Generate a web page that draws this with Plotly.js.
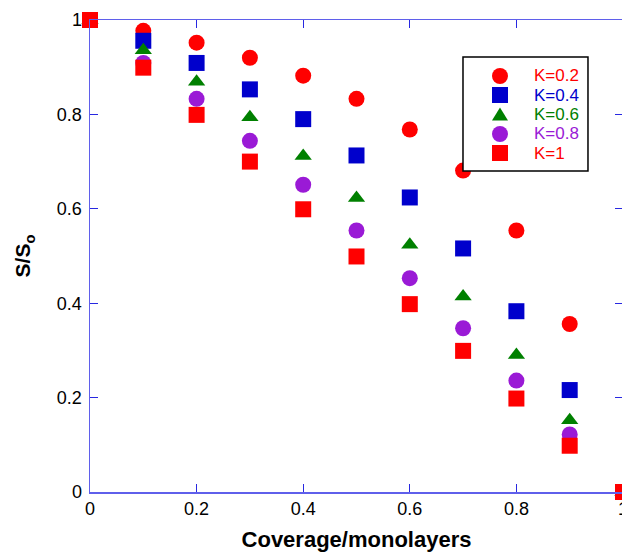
<!DOCTYPE html>
<html>
<head>
<meta charset="utf-8">
<script src="https://cdn.plot.ly/plotly-3.0.1.min.js"></script>
<style>
html,body{margin:0;padding:0;overflow:hidden;background:#fff;}
#chart{width:624px;height:553px;}
</style>
</head>
<body>
<div id="chart"></div>
<script>
const coverage = [0, 0.1, 0.2, 0.3, 0.4, 0.5, 0.6, 0.7, 0.8, 0.9, 1.0];
const seriesNames = ['K=0.2', 'K=0.4', 'K=0.6', 'K=0.8', 'K=1'];
const k02 = [1, 0.977, 0.952, 0.920, 0.882, 0.833, 0.768, 0.681, 0.554, 0.356, 0];
const k04 = [1, 0.956, 0.909, 0.853, 0.790, 0.713, 0.624, 0.516, 0.383, 0.216, 0];
const k06 = [1, 0.936, 0.869, 0.794, 0.712, 0.623, 0.524, 0.414, 0.290, 0.152, 0];
const k08 = [1, 0.909, 0.833, 0.744, 0.651, 0.554, 0.453, 0.347, 0.236, 0.122, 0];
const k10 = [1, 0.899, 0.799, 0.700, 0.599, 0.499, 0.398, 0.299, 0.198, 0.098, 0];
const xTicks = [0, 0.2, 0.4, 0.6, 0.8, 1];
const xTickText = ['0', '0.2', '0.4', '0.6', '0.8', '1'];
const yTicks = [0, 0.2, 0.4, 0.6, 0.8, 1];
const yTickText = ['0', '0.2', '0.4', '0.6', '0.8', '1'];

const colors = ['#ff0000', '#0000cc', '#008000', '#9a1ad6', '#ff0000'];
const symbols = ['circle', 'square', 'triangle-up', 'circle', 'square'];
const values = [k02, k04, k06, k08, k10];
const FONT = 'Liberation Sans, Arial, sans-serif';

const traces = values.map((v, i) => ({
  x: coverage,
  y: v,
  type: 'scatter',
  mode: 'markers',
  name: seriesNames[i],
  showlegend: false,
  cliponaxis: false,
  marker: {color: colors[i], symbol: symbols[i], size: symbols[i] === 'triangle-up' ? 15 : 16, line: {width: 0}}
}));

// custom legend (layout elements in paper coordinates)
const legX0 = 0.6998, legX1 = 0.9343, legY0 = 0.680, legY1 = 0.9216;
const legSymX = 0.7692, legTextX = 0.8293;
const legRowY = [0.8814, 0.8411, 0.7998, 0.7585, 0.7182];

const shapes = [{
  type: 'rect', xref: 'paper', yref: 'paper', x0: legX0, x1: legX1, y0: legY0, y1: legY1,
  line: {color: '#000', width: 1.5}, fillcolor: '#fff', layer: 'above'
}];
const annotations = [];
symbols.forEach((s, i) => {
  const base = {xref: 'paper', yref: 'paper', xsizemode: 'pixel', ysizemode: 'pixel',
    xanchor: legSymX, yanchor: legRowY[i], fillcolor: colors[i], line: {width: 0}, layer: 'above'};
  if (s === 'circle') shapes.push(Object.assign({type: 'circle', x0: -8, x1: 8, y0: -8, y1: 8}, base));
  else if (s === 'square') shapes.push(Object.assign({type: 'rect', x0: -8, x1: 8, y0: -8, y1: 8}, base));
  else shapes.push(Object.assign({type: 'path', path: 'M-8,-6 L8,-6 L0,7 Z'}, base));
  annotations.push({
    xref: 'paper', yref: 'paper', x: legTextX, y: legRowY[i], xanchor: 'left', yanchor: 'middle',
    showarrow: false, text: seriesNames[i], font: {family: FONT, size: 17, color: colors[i]}
  });
});

const axisCommon = {
  showgrid: false,
  zeroline: false,
  showline: true,
  linecolor: 'rgb(95,95,235)',
  linewidth: 1.5,
  mirror: 'ticks',
  ticks: 'inside',
  ticklen: 8,
  tickwidth: 1.2,
  tickcolor: 'rgb(40,40,225)',
  ticklabeloverflow: 'allow',
  tickfont: {family: FONT, size: 18, color: '#000'}
};

const layout = {
  width: 624,
  height: 553,
  margin: {l: 90, r: 1, t: 20, b: 61},
  paper_bgcolor: '#fff',
  plot_bgcolor: '#fff',
  showlegend: false,
  shapes: shapes,
  annotations: annotations,
  xaxis: Object.assign({}, axisCommon, {
    range: [0, 1],
    tickvals: xTicks, ticktext: xTickText,
    title: {text: '<b>Coverage/monolayers</b>', font: {family: FONT, size: 22, color: '#000'}, standoff: 13}
  }),
  yaxis: Object.assign({}, axisCommon, {
    range: [0, 1],
    tickvals: yTicks, ticktext: yTickText,
    ticklabelstandoff: 3,
    title: {text: '<b>S/S<sub>o</sub></b>', font: {family: FONT, size: 21, color: '#000'}, standoff: 20}
  })
};

Plotly.newPlot('chart', traces, layout, {displayModeBar: false, staticPlot: true});
</script>
</body>
</html>
